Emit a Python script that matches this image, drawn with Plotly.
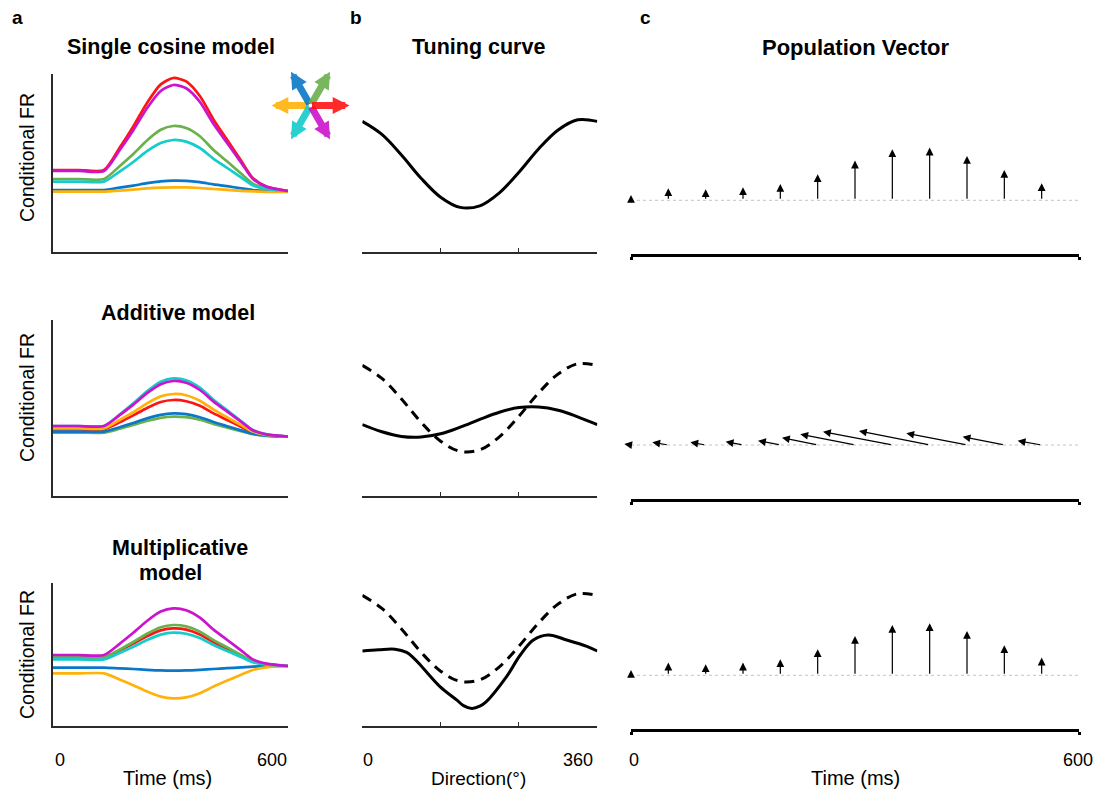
import math
import plotly.graph_objects as go

W, H = 1096, 792
FONT = "Liberation Sans, Arial, Helvetica, sans-serif"

# ---------------- data ----------------
T = [0, 65, 130, 170, 205, 240, 275, 307, 340, 375, 410, 445, 480, 510, 545, 600]  # ms

COLORS = {"red": "#FF1414", "green": "#6AB04C", "blue": "#0A78C8",
          "yellow": "#FFB20A", "cyan": "#14CCCC", "magenta": "#CC14CC"}
ORDER = ["red", "green", "blue", "yellow", "cyan", "magenta"]
ICON_ANGLES = {"red": 0, "green": 60, "blue": 120, "yellow": 180, "cyan": 240, "magenta": 300}

SINGLE = {
    "red":     [41, 41, 41, 52.1, 62.8, 74.5, 83.8, 87.0, 85.3, 78.0, 66.2, 56.0, 45.7, 37.0, 32.7, 30.5],
    "green":   [36.5, 36.5, 36.5, 42.9, 49.0, 55.8, 61.1, 63.0, 62.0, 57.9, 51.0, 45.2, 39.2, 34.2, 31.8, 30.5],
    "blue":    [31, 31, 31, 32.2, 33.2, 34.4, 35.3, 35.7, 35.6, 34.9, 33.8, 32.9, 31.8, 31.0, 30.6, 30.5],
    "yellow":  [30.2, 30.2, 30.2, 30.7, 31.2, 31.8, 32.2, 32.3, 32.3, 32.0, 31.5, 31.1, 30.6, 30.3, 30.1, 30.0],
    "cyan":    [35.2, 35.2, 35.2, 40.2, 45.0, 50.4, 54.5, 56.0, 55.2, 52.0, 46.6, 42.0, 37.3, 33.4, 31.5, 30.5],
    "magenta": [40.5, 40.5, 40.5, 50.9, 60.9, 71.9, 80.5, 83.5, 81.9, 75.1, 64.0, 54.4, 44.8, 36.6, 32.6, 30.5],
}
ADDITIVE = {
    "red":     [33.3, 33.3, 33.3, 36.8, 40.3, 44.0, 47.0, 48.0, 47.4, 45.1, 41.3, 38.0, 34.6, 31.8, 30.4, 29.7],
    "green":   [31.7, 31.7, 31.7, 33.6, 35.5, 37.5, 39.1, 39.7, 39.4, 38.1, 36.0, 34.2, 32.4, 30.9, 30.1, 29.7],
    "blue":    [32.2, 32.2, 32.2, 34.4, 36.5, 38.8, 40.6, 41.3, 40.9, 39.4, 37.0, 34.9, 32.8, 31.1, 30.2, 29.7],
    "yellow":  [33.8, 33.8, 33.8, 38.0, 41.9, 46.3, 49.8, 51.0, 50.4, 47.6, 43.2, 39.3, 35.4, 32.2, 30.6, 29.7],
    "cyan":    [35, 35, 35, 40.7, 46.3, 52.3, 57.1, 58.8, 57.9, 54.2, 48.1, 42.8, 37.5, 33.0, 30.8, 29.7],
    "magenta": [35, 35, 35, 40.4, 45.7, 51.4, 55.9, 57.5, 56.6, 53.0, 47.2, 42.2, 37.2, 32.9, 30.8, 29.7],
}
MULTIPLICATIVE = {
    "red":     [34.3, 34.3, 34.3, 37.8, 41.2, 44.9, 47.8, 48.8, 48.2, 45.8, 41.9, 38.5, 35.1, 32.3, 30.8, 30],
    "green":   [34.3, 34.3, 34.3, 38.2, 42.0, 46.1, 49.4, 50.5, 49.8, 47.2, 42.9, 39.3, 35.5, 32.4, 30.9, 30],
    "blue":    [29.2, 29.2, 29.2, 28.8, 28.5, 28.1, 27.8, 27.7, 27.8, 28.1, 28.5, 28.9, 29.3, 29.7, 29.9, 30],
    "yellow":  [26.3, 26.3, 26.3, 23.3, 20.4, 17.2, 14.7, 13.8, 14.3, 16.4, 19.7, 22.7, 25.6, 28.0, 29.3, 30],
    "cyan":    [33.3, 33.3, 33.3, 36.5, 39.6, 43.0, 45.7, 46.7, 46.1, 44.0, 40.5, 37.5, 34.5, 31.9, 30.7, 30],
    "magenta": [35.5, 35.5, 35.5, 41.1, 46.6, 52.5, 57.2, 58.8, 57.9, 54.2, 48.2, 43.0, 37.8, 33.3, 31.2, 30],
}

DIRS = [0, 30, 60, 90, 120, 150, 180, 210, 240, 270, 300, 330, 360]
TUNING_SINGLE = [65.3, 58.8, 48.5, 36.9, 27.4, 22.3, 23.1, 29.6, 39.9, 51.5, 61.0, 66.1, 65.3]
TUNING_ADD = [35.7, 32.1, 29.8, 29.5, 31.1, 34.4, 38.3, 41.9, 44.2, 44.5, 42.9, 39.6, 35.7]
DIRS_MULT = [0, 25, 50, 68, 80, 93, 119, 145, 155, 168, 180, 190, 221, 242, 262, 285, 313, 344, 360]
TUNING_MULT = [37.5, 38.1, 38.4, 36.8, 33.6, 29.0, 19.7, 12.9, 10.2, 8.8, 9.9, 12.2, 24.7, 35.5, 43.0,
               45.5, 43.0, 39.8, 37.5]

PV_T = [0, 50, 100, 150, 200, 250, 300, 350, 400, 450, 500, 550]
PV_SINGLE_X = [0] * 12
PV_SINGLE_Y = [5.3, 12, 11, 13, 16.3, 26, 39.7, 51, 52.7, 44.3, 30.3, 17]
PV_ADD_X = [-6.7, -16, -15.3, -17.3, -22.3, -35.7, -54.7, -69.3, -70.7, -60.7, -41.7, -24]
PV_ADD_Y = [1, 2.7, 2.7, 3.3, 4.3, 7.3, 10.7, 13.3, 14, 11.7, 8.3, 4.3]
PV_MULT_X = [0] * 12
PV_MULT_Y = [5.3, 12.7, 11, 12.7, 16, 26, 39.3, 50.3, 52, 44.3, 30, 17.7]
PV_BASE = 54

# ---------------- geometry (pixels) ----------------
A_X = (53, 288)
B_X = (362.3, 597.3)
C_X = (631, 1079)
ROWS_A = [(74, 252), (320, 496), (583, 726)]
ROWS_C = [(74, 254.3), (320, 499), (583, 729.3)]
UNIT_A = 2.0   # px per FR unit
UNIT_C = 1.0   # px per PV unit


def fx(x):
    return x / W


def fy(y):
    return 1 - y / H


fig = go.Figure()
layout = dict(width=W, height=H, margin=dict(l=0, r=0, t=0, b=0),
              paper_bgcolor="white", plot_bgcolor="white", showlegend=False,
              font=dict(family=FONT, color="black"))

AXCOL = "#2b2b2b"
for r in range(3):
    for c in range(3):
        idx = 3 * r + c + 1
        xn = "xaxis" if idx == 1 else f"xaxis{idx}"
        yn = "yaxis" if idx == 1 else f"yaxis{idx}"
        xr = "x" if idx == 1 else f"x{idx}"
        yr = "y" if idx == 1 else f"y{idx}"
        if c == 0:
            top, bot = ROWS_A[r]
            xdom = A_X
            layout[xn] = dict(domain=[fx(xdom[0]), fx(xdom[1])], range=[0, 600], anchor=yr,
                              showline=True, linecolor=AXCOL, linewidth=1.5,
                              ticks="inside", tickvals=[0, 600], ticklen=4, tickcolor=AXCOL,
                              showticklabels=False, showgrid=False, zeroline=False, fixedrange=True)
            layout[yn] = dict(domain=[fy(bot), fy(top)], range=[0, (bot - top) / UNIT_A], anchor=xr,
                              showline=True, linecolor=AXCOL, linewidth=1.5, ticks="",
                              showticklabels=False, showgrid=False, zeroline=False, fixedrange=True)
        elif c == 1:
            top, bot = ROWS_A[r]
            xdom = B_X
            layout[xn] = dict(domain=[fx(xdom[0]), fx(xdom[1])], range=[0, 360], anchor=yr,
                              showline=True, linecolor=AXCOL, linewidth=1.5,
                              ticks="inside", tickvals=[0, 120, 240, 360], ticklen=4, tickcolor=AXCOL,
                              showticklabels=False, showgrid=False, zeroline=False, fixedrange=True)
            layout[yn] = dict(domain=[fy(bot), fy(top)], range=[0, (bot - top) / UNIT_A], anchor=xr,
                              visible=False, fixedrange=True)
        else:
            top, bot = ROWS_C[r]
            xdom = C_X
            layout[xn] = dict(domain=[fx(xdom[0]), fx(xdom[1])], range=[0, 600], anchor=yr,
                              showline=True, linecolor="black", linewidth=2.5,
                              ticks="outside", tickvals=[0, 600], ticklen=3, tickwidth=3, tickcolor="black",
                              showticklabels=False, showgrid=False, zeroline=False, fixedrange=True)
            layout[yn] = dict(domain=[fy(bot), fy(top)], range=[0, (bot - top) / UNIT_C], anchor=xr,
                              visible=False, fixedrange=True)


def ax_refs(r, c):
    idx = 3 * r + c + 1
    return ("x" if idx == 1 else f"x{idx}"), ("y" if idx == 1 else f"y{idx}")


# panel a traces
for r, model in enumerate([SINGLE, ADDITIVE, MULTIPLICATIVE]):
    xr, yr = ax_refs(r, 0)
    for name in ORDER:
        fig.add_trace(go.Scatter(x=T, y=model[name], mode="lines", xaxis=xr, yaxis=yr,
                                 line=dict(color=COLORS[name], width=2.7, shape="spline", smoothing=0.7),
                                 hoverinfo="skip"))

# panel b traces
xr, yr = ax_refs(0, 1)
fig.add_trace(go.Scatter(x=DIRS, y=TUNING_SINGLE, mode="lines", xaxis=xr, yaxis=yr,
                         line=dict(color="black", width=3, shape="spline")))
xr, yr = ax_refs(1, 1)
fig.add_trace(go.Scatter(x=DIRS, y=TUNING_SINGLE, mode="lines", xaxis=xr, yaxis=yr,
                         line=dict(color="black", width=3, shape="spline", dash="10px,7px")))
fig.add_trace(go.Scatter(x=DIRS, y=TUNING_ADD, mode="lines", xaxis=xr, yaxis=yr,
                         line=dict(color="black", width=3, shape="spline")))
xr, yr = ax_refs(2, 1)
fig.add_trace(go.Scatter(x=DIRS, y=TUNING_SINGLE, mode="lines", xaxis=xr, yaxis=yr,
                         line=dict(color="black", width=3, shape="spline", dash="10px,7px")))
fig.add_trace(go.Scatter(x=DIRS_MULT, y=TUNING_MULT, mode="lines", xaxis=xr, yaxis=yr,
                         line=dict(color="black", width=3, shape="spline", smoothing=1)))

# panel c: baselines + arrows
annotations = []
ms_per_px = 600 / (C_X[1] - C_X[0])
for r, (vx, vy) in enumerate([(PV_SINGLE_X, PV_SINGLE_Y), (PV_ADD_X, PV_ADD_Y), (PV_MULT_X, PV_MULT_Y)]):
    xr, yr = ax_refs(r, 2)
    fig.add_trace(go.Scatter(x=[0, 600], y=[PV_BASE, PV_BASE], mode="lines", xaxis=xr, yaxis=yr,
                             line=dict(color="#C4C4C4", width=1, dash="dot"), hoverinfo="skip"))
    for t, dx, dy in zip(PV_T, vx, vy):
        annotations.append(dict(x=t + dx * UNIT_C * ms_per_px, y=PV_BASE + dy, ax=t, ay=PV_BASE,
                                xref=xr, yref=yr, axref=xr, ayref=yr, text="", showarrow=True,
                                arrowhead=2, arrowsize=1.3, arrowwidth=1.2, arrowcolor="black", standoff=0))

# direction icon
CX, CY, L = 310.5, 105.5, 39
for name in ["yellow", "cyan", "magenta", "blue", "green", "red"]:
    a = math.radians(ICON_ANGLES[name])
    tipx, tipy = CX + L * math.cos(a), CY - L * math.sin(a)
    annotations.append(dict(x=fx(tipx), y=fy(tipy), xref="paper", yref="paper",
                            ax=CX - tipx, ay=CY - tipy, axref="pixel", ayref="pixel",
                            text="", showarrow=True, arrowhead=2, arrowsize=0.48, arrowwidth=7,
                            arrowcolor=COLORS[name], standoff=0, opacity=0.9))


def txt(s, x, y, size, bold=False, angle=0):
    annotations.append(dict(text=f"<b>{s}</b>" if bold else s, x=fx(x), y=fy(y),
                            xref="paper", yref="paper", showarrow=False,
                            xanchor="center", yanchor="middle", textangle=angle,
                            font=dict(family=FONT, size=size, color="black")))


txt("a", 17, 18, 19, True)
txt("b", 356, 18, 19, True)
txt("c", 645, 18, 19, True)
txt("Single cosine model", 171, 47, 21.5, True)
txt("Tuning curve", 478, 47, 21.5, True)
txt("Population Vector", 855, 47, 22, True)
txt("Additive model", 178, 313, 21.5, True)
txt("Multiplicative", 180, 548, 21.5, True)
txt("model", 170, 573, 21.5, True)
for yc in (158, 398, 655):
    txt("Conditional FR", 27, yc, 19.5, angle=-90)
txt("0", 60, 760, 18)
txt("600", 272, 760, 18)
txt("Time (ms)", 167, 778, 20)
txt("0", 368, 760, 18)
txt("360", 578, 760, 18)
txt("Direction(°)", 478, 778, 19)
txt("0", 634, 760, 18)
txt("600", 1078, 760, 18)
txt("Time (ms)", 855, 778, 20)

layout["annotations"] = annotations
fig.update_layout(**layout)
fig.write_html("out.html")
